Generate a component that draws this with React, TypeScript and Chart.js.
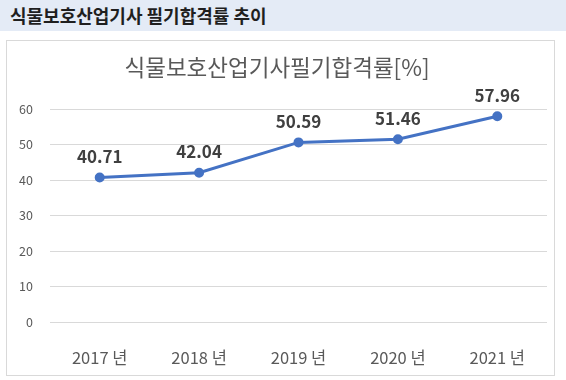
import React, { useEffect, useRef } from "react";
import { Chart, registerables } from "chart.js";

Chart.register(...registerables);

const categories = ["2017 년", "2018 년", "2019 년", "2020 년", "2021 년"];
const passRates = [40.71, 42.04, 50.59, 51.46, 57.96];
const yTicks = [0, 10, 20, 30, 40, 50, 60];
const pageTitle = "식물보호산업기사 필기합격률 추이";
const chartTitle = "식물보호산업기사필기합격률[%]";

const FONT = "'Noto Sans CJK KR', 'Noto Sans', sans-serif";

const dataLabelPlugin = {
  id: "dataLabels",
  afterDatasetsDraw(chart: any) {
    const ctx = chart.ctx;
    const meta = chart.getDatasetMeta(0);
    const ds = chart.data.datasets[0];
    ctx.save();
    ctx.font = `bold 17px ${FONT}`;
    ctx.fillStyle = "#404040";
    ctx.textAlign = "center";
    ctx.textBaseline = "middle";
    meta.data.forEach((pt: any, i: number) => {
      ctx.fillText(Number(ds.data[i]).toFixed(2), pt.x, pt.y - 21);
    });
    ctx.restore();
  },
};

export default function App() {
  const ref = useRef<HTMLCanvasElement>(null);
  useEffect(() => {
    document.body.style.margin = "0";
    const chart = new Chart(ref.current!, {
      type: "line",
      data: {
        labels: categories,
        datasets: [
          {
            data: passRates,
            borderColor: "#4472C4",
            backgroundColor: "#4472C4",
            borderWidth: 3,
            pointRadius: 3.5,
            pointBackgroundColor: "#4472C4",
            pointBorderColor: "#4472C4",
            tension: 0,
            clip: false as any,
          },
        ],
      },
      options: {
        animation: false,
        responsive: false,
        maintainAspectRatio: false,
        layout: { padding: { left: 0, right: 7, top: 0, bottom: 0 } },
        plugins: {
          legend: { display: false },
          tooltip: { enabled: false },
          title: {
            display: true,
            text: chartTitle,
            color: "#595959",
            font: { family: FONT, size: 22.5, weight: "normal" as any },
            padding: { top: 12.5, bottom: 28.5 },
          },
        },
        scales: {
          x: {
            offset: true,
            grid: { display: false },
            border: { display: false },
            ticks: {
              color: "#595959",
              font: { family: FONT, size: 16.5 },
              padding: 18,
              maxRotation: 0,
            },
            afterFit(scale: any) {
              scale.height = 53;
            },
          },
          y: {
            min: 0,
            max: 60,
            afterBuildTicks(scale: any) {
              scale.ticks = yTicks.map((v) => ({ value: v }));
            },
            grid: { color: "#d9d9d9", lineWidth: 1, drawTicks: false },
            border: { display: false },
            ticks: {
              color: "#595959",
              font: { family: FONT, size: 12.5 },
              padding: 17,
            },
            afterFit(scale: any) {
              scale.width = 43;
            },
          },
        },
      },
      plugins: [dataLabelPlugin],
    });
    return () => chart.destroy();
  }, []);

  return (
    <div style={{ position: "fixed", left: 0, top: 0, width: 566, height: 380, background: "#fff" }}>
      <div
        style={{
          position: "absolute",
          left: 0,
          top: 0,
          width: 566,
          height: 31,
          background: "#E4EBF6",
          fontFamily: FONT,
          fontWeight: "bold",
          fontSize: 18,
          color: "#1f1f1f",
          lineHeight: "31px",
          paddingLeft: 10,
          boxSizing: "border-box",
          whiteSpace: "nowrap",
        }}
      >
        {pageTitle}
      </div>
      <div
        style={{
          position: "absolute",
          left: 6,
          top: 40,
          width: 549,
          height: 336,
          border: "1px solid #d9d9d9",
          boxSizing: "border-box",
        }}
      >
        <canvas ref={ref} width={547} height={334} style={{ display: "block" }} />
      </div>
    </div>
  );
}
